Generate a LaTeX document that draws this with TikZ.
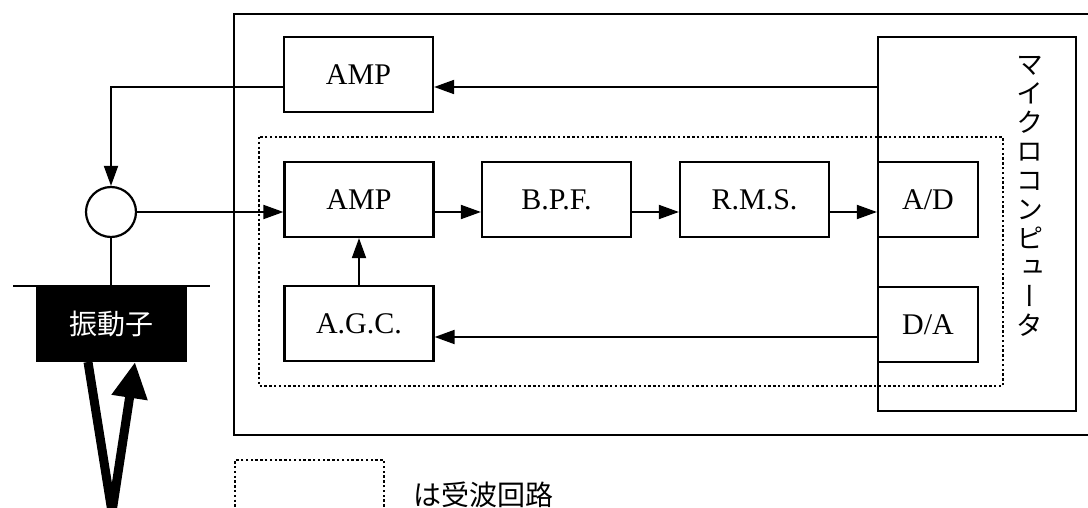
\documentclass[tikz,border=0pt]{standalone}
\usepackage{fontspec}
\setmainfont{Liberation Serif}
\newfontfamily\cjk{Noto Sans CJK JP}
\newfontfamily\cjkv[RawFeature=+vert]{Noto Sans CJK JP}
\usetikzlibrary{arrows.meta}
\begin{document}
\begin{tikzpicture}[x=1pt,y=-1pt,
  blk/.style={draw,line width=2.2pt,minimum width=149pt,minimum height=75pt,inner sep=0pt,font=\fontsize{30}{36}\selectfont},
  smallblk/.style={blk,minimum width=100pt},
  conn/.style={line width=1.8pt},
  arr/.style={conn,-{Triangle[length=20pt,width=14pt]}},
  dots/.style={line width=2.6pt,dash pattern=on 2.4pt off 2.4pt},
  frame/.style={line width=2.2pt}]
\useasboundingbox (0,0) rectangle (1088,508);
\clip (0,0) rectangle (1088,508);
% outer housing
\draw[frame] (1100,14) -- (234,14) -- (234,435) -- (1100,435);
% receiving circuit (dotted)
\draw[dots] (259,137) rectangle (1003,386);
% microcomputer
\node[draw,frame,minimum width=198pt,minimum height=374pt,inner sep=0pt] (mc) at (977,224) {};
\node[align=center,inner sep=0pt,font=\cjkv\fontsize{27}{29}\selectfont] (mct) at (1030,196)
  {マ\\イ\\ク\\ロ\\コ\\ン\\ピ\\ュ\\ー\\タ};
% blocks
\node[blk] (ampT) at (358.5,74.5) {AMP};
\node[blk] (amp) at (359,199.5) {AMP};
\node[blk] (bpf) at (556.5,199.5) {B.P.F.};
\node[blk] (rms) at (754.5,199.5) {R.M.S.};
\node[smallblk] (ad) at (928,199.5) {A/D};
\node[smallblk] (da) at (928,324.5) {D/A};
\node[blk] (agc) at (359,323.5) {A.G.C.};
% transducer side
\node[circle,draw,frame,minimum size=50pt,inner sep=0pt] (circ) at (111,212) {};
\node[fill=black,minimum width=151pt,minimum height=76pt,inner sep=0pt,text=white,font=\cjk\fontsize{28}{30}\selectfont] (vib) at (111.5,324) {振動子};
\coordinate (barL) at (13,286);
\coordinate (barR) at (210,286);
\draw[frame] (barL) -- (barR);
\draw[conn] (circ.south) -- (circ.south |- barL);
% V-shaped wave path
\coordinate (vtop) at (88,362);
\coordinate (vbot) at (112,512);
\coordinate (vtip) at (135,362);
\draw[line width=9pt,-{Triangle[length=36pt,width=34pt]}] (vtop) -- (vbot) -- (vtip);
% signal levels
\coordinate (yup) at (0,87);
\coordinate (ylow) at (0,337);
% connectors
\draw[arr] (mc.west |- yup) -- (ampT.east |- yup);
\draw[arr] (ampT.west |- yup) -| (circ.north);
\draw[arr] (circ.east) -- (amp.west |- circ.east);
\draw[arr] (amp.east |- circ.east) -- (bpf.west |- circ.east);
\draw[arr] (bpf.east |- circ.east) -- (rms.west |- circ.east);
\draw[arr] (rms.east |- circ.east) -- (ad.west |- circ.east);
\draw[arr] (agc.north) -- (amp.south);
\draw[arr] (da.west |- ylow) -- (agc.east |- ylow);
% legend
\node[draw,dots,minimum width=149pt,minimum height=80pt,inner sep=0pt] (leg) at (309.5,500) {};
\node[anchor=west,inner sep=0pt,font=\cjk\fontsize{28}{30}\selectfont] (legt) at (413,495) {は受波回路};
\end{tikzpicture}
\end{document}
